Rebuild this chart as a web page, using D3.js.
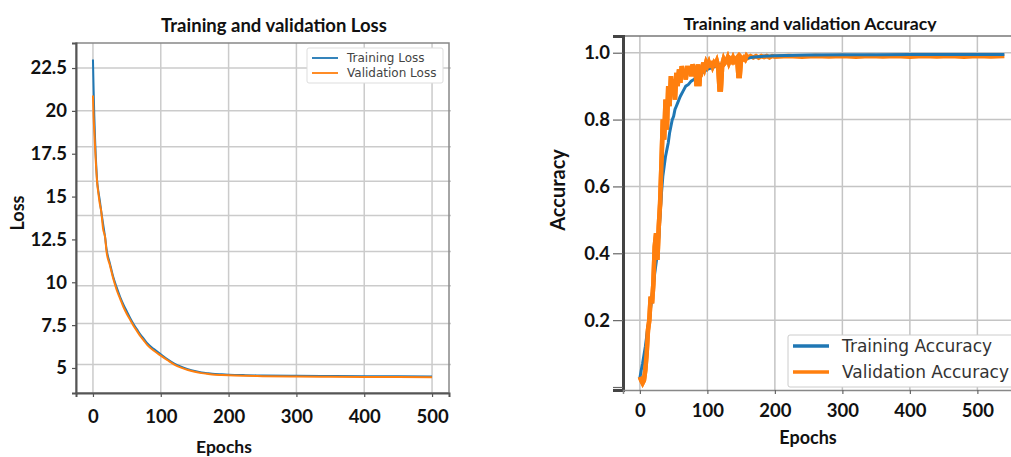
<!DOCTYPE html>
<html>
<head>
<meta charset="utf-8">
<script src="https://cdn.jsdelivr.net/npm/d3@7"></script>
<style>
  body { margin: 0; background: #fff; }
  svg { display: block; }
</style>
</head>
<body>
<svg id="chart"></svg>
<script>
// ---- data ----
const lossEpochs = [0, 1, 2, 3, 4, 5, 6, 8, 10, 12, 15, 18, 20, 25, 30, 35, 40, 45, 50, 55, 60, 65, 70, 75, 80, 90,
  100, 110, 120, 130, 140, 150, 160, 170, 180, 190, 200, 225, 250, 300, 350, 400, 450, 500];
const trainLoss = [23.0, 21.2, 19.7, 18.5, 17.5, 16.7, 16.0, 15.3, 14.8, 14.2, 13.4, 12.6, 11.95, 11.1, 10.3, 9.7, 9.15,
  8.7, 8.3, 7.9, 7.55, 7.25, 6.95, 6.7, 6.45, 6.1, 5.8, 5.5, 5.25, 5.07, 4.93, 4.82, 4.74, 4.69, 4.65, 4.63, 4.61,
  4.58, 4.56, 4.54, 4.53, 4.52, 4.51, 4.5];
const valLoss = [20.9, 19.6, 18.8, 18.0, 17.2, 16.5, 15.9, 15.2, 14.6, 14.2, 13.1, 12.6, 11.8, 11.0, 10.2, 9.55, 9.05,
  8.55, 8.15, 7.8, 7.45, 7.15, 6.85, 6.6, 6.35, 6.0, 5.72, 5.45, 5.2, 5.02, 4.88, 4.78, 4.70, 4.65, 4.61, 4.59, 4.57,
  4.54, 4.52, 4.5, 4.49, 4.48, 4.47, 4.46];
const lossTicks = [5, 7.5, 10, 12.5, 15, 17.5, 20, 22.5];
const lossTickLabels = ["5", "7.5", "10", "12.5", "15", "17.5", "20", "22.5"];
const lossGridValues = [22.5, 20, 17.9, 15.9, 13.9, 11.8, 9.8, 7.6, 5.2];

const accTrain = [
  [0, 0.027], [2, 0.05], [4, 0.07], [6, 0.095], [8, 0.12], [10, 0.15], [12, 0.18], [14, 0.2], [16, 0.24],
  [18, 0.27], [20, 0.31], [22, 0.34], [24, 0.37], [26, 0.4], [28, 0.45], [30, 0.52], [32, 0.58], [34, 0.63],
  [36, 0.66], [38, 0.69], [40, 0.71], [42, 0.73], [44, 0.76], [46, 0.78], [48, 0.8], [50, 0.81], [52, 0.83],
  [54, 0.84], [56, 0.85], [58, 0.86], [60, 0.87], [64, 0.885], [68, 0.9], [72, 0.905], [76, 0.915], [80, 0.92],
  [84, 0.925], [88, 0.935], [92, 0.94], [96, 0.945], [100, 0.95], [110, 0.958], [120, 0.965], [130, 0.972],
  [140, 0.977], [150, 0.981], [160, 0.984], [170, 0.987], [180, 0.989], [190, 0.99], [200, 0.991], [250, 0.993],
  [300, 0.994], [350, 0.994], [400, 0.995], [450, 0.995], [500, 0.995], [540, 0.995]
];
const accVal = [
  [0, 0.03], [2, 0.02], [4, 0.012], [6, 0.02], [8, 0.05], [10, 0.1], [12, 0.17], [14, 0.2], [16, 0.27],
  [18, 0.25], [20, 0.31], [22, 0.42], [24, 0.46], [26, 0.38], [28, 0.48], [30, 0.55], [32, 0.67], [34, 0.8],
  [36, 0.74], [38, 0.86], [40, 0.77], [42, 0.9], [44, 0.84], [46, 0.93], [48, 0.88], [50, 0.92], [52, 0.86],
  [54, 0.94], [56, 0.9], [58, 0.95], [60, 0.91], [62, 0.96], [64, 0.93], [66, 0.95], [68, 0.92], [70, 0.96],
  [72, 0.94], [74, 0.96], [76, 0.93], [78, 0.965], [80, 0.95], [82, 0.96], [84, 0.9], [86, 0.965], [88, 0.9],
  [90, 0.96], [92, 0.95], [94, 0.97], [96, 0.955], [98, 0.97], [100, 0.96], [102, 0.97], [104, 0.955],
  [106, 0.975], [108, 0.96], [110, 0.97], [112, 0.965], [114, 0.975], [116, 0.96], [118, 0.89], [120, 0.89],
  [122, 0.965], [124, 0.98], [126, 0.97], [128, 0.975], [130, 0.985], [132, 0.97], [134, 0.98], [136, 0.975],
  [138, 0.985], [140, 0.975], [142, 0.98], [144, 0.985], [146, 0.93], [148, 0.93], [150, 0.985], [152, 0.98],
  [154, 0.985], [156, 0.98], [158, 0.99], [160, 0.985], [164, 0.99], [168, 0.986], [172, 0.99], [176, 0.985],
  [180, 0.99], [184, 0.987], [188, 0.99], [192, 0.986], [196, 0.99], [200, 0.988], [220, 0.99], [240, 0.988],
  [260, 0.99], [280, 0.989], [300, 0.99], [320, 0.988], [340, 0.99], [360, 0.989], [380, 0.99], [400, 0.988],
  [420, 0.99], [440, 0.989], [460, 0.99], [480, 0.988], [500, 0.99], [520, 0.989], [540, 0.99]
];
const accTicks = [0, 0.2, 0.4, 0.6, 0.8, 1.0];
const accTickLabels = ["", "0.2", "0.4", "0.6", "0.8", "1.0"];
const epochTicks = [0, 100, 200, 300, 400, 500];

const blue = "#1f77b4", orange = "#ff7f0e";
const tickFont = "Lato, 'Open Sans', sans-serif";

const svg = d3.select("#chart").attr("width", 1011).attr("height", 457);

// ================= Loss panel =================
const lossX = d3.scaleLinear().domain([-25, 525]).range([76, 449]);
const lossY = d3.scaleLinear().domain([3.54, 23.96]).range([393, 43]);

const lossG = svg.append("g");

lossG.selectAll(".hgrid").data(lossGridValues).join("line")
  .attr("x1", 76).attr("x2", 451)
  .attr("y1", d => lossY(d)).attr("y2", d => lossY(d))
  .attr("stroke", "#cbcbcb").attr("stroke-width", 1.5);
lossG.selectAll(".vgrid").data(epochTicks).join("line")
  .attr("x1", d => lossX(d)).attr("x2", d => lossX(d))
  .attr("y1", 43).attr("y2", 393)
  .attr("stroke", "#cbcbcb").attr("stroke-width", 1.5);

const lossLine = (vals) => d3.line()
  .x((d, i) => lossX(lossEpochs[i]))
  .y(d => lossY(d))
  .curve(d3.curveMonotoneX)(vals);

lossG.append("path").attr("d", lossLine(trainLoss))
  .attr("fill", "none").attr("stroke", blue).attr("stroke-width", 2);
lossG.append("path").attr("d", lossLine(valLoss))
  .attr("fill", "none").attr("stroke", orange).attr("stroke-width", 2);

// frame
lossG.append("rect").attr("x", 76).attr("y", 43).attr("width", 373).attr("height", 350)
  .attr("fill", "none").attr("stroke", "#888").attr("stroke-width", 1.5);

const lossYAxis = lossG.append("g").attr("transform", "translate(76,0)")
  .call(d3.axisLeft(lossY).tickValues(lossTicks)
    .tickFormat((d, i) => lossTickLabels[i]).tickSize(4).tickPadding(5));
const lossXAxis = lossG.append("g").attr("transform", "translate(0,393)")
  .call(d3.axisBottom(lossX).tickValues(epochTicks).tickSize(4).tickPadding(13));
[lossYAxis, lossXAxis].forEach(a => {
  a.select(".domain").attr("stroke", "#555").attr("stroke-width", 2);
  a.selectAll(".tick line").attr("stroke", "#555").attr("stroke-width", 1.2);
  a.selectAll(".tick text").attr("font-family", tickFont).attr("font-weight", 700)
    .attr("font-size", 18.5).attr("fill", "#111");
});

lossG.append("text").attr("x", 274).attr("y", 32).attr("text-anchor", "middle")
  .attr("font-family", tickFont).attr("font-weight", 700).attr("font-size", 18.5).attr("fill", "#111")
  .text("Training and validation Loss");
lossG.append("text").attr("x", 224).attr("y", 453).attr("text-anchor", "middle")
  .attr("font-family", tickFont).attr("font-weight", 700).attr("font-size", 17.5).attr("fill", "#111")
  .text("Epochs");
lossG.append("text").attr("transform", "translate(24,213) rotate(-90)").attr("text-anchor", "middle")
  .attr("font-family", tickFont).attr("font-weight", 700).attr("font-size", 18).attr("fill", "#111")
  .text("Loss");

// legend
const lossLegend = lossG.append("g").attr("transform", "translate(307,48)");
lossLegend.append("rect").attr("width", 136).attr("height", 35).attr("rx", 2)
  .attr("fill", "#fff").attr("stroke", "#ddd");
[{ label: "Training Loss", color: blue }, { label: "Validation Loss", color: orange }].forEach((d, i) => {
  lossLegend.append("line").attr("x1", 5).attr("x2", 31).attr("y1", 10 + i * 15).attr("y2", 10 + i * 15)
    .attr("stroke", d.color).attr("stroke-width", 1.8);
  lossLegend.append("text").attr("x", 40).attr("y", 10 + i * 15).attr("dy", "0.35em")
    .attr("font-family", "'DejaVu Sans', sans-serif").attr("font-size", 12).attr("fill", "#444")
    .text(d.label);
});

// ================= Accuracy panel =================
const accX = d3.scaleLinear().domain([-25, 575]).range([623, 1028]);
const accY = d3.scaleLinear().domain([-0.009, 1.05]).range([390, 36]);

const accG = svg.append("g");

accG.selectAll(".hgrid").data(accTicks.slice(1)).join("line")
  .attr("x1", 623).attr("x2", 1028)
  .attr("y1", d => accY(d)).attr("y2", d => accY(d))
  .attr("stroke", "#c4c4c4").attr("stroke-width", 1.5);
accG.selectAll(".vgrid").data(epochTicks).join("line")
  .attr("x1", d => accX(d)).attr("x2", d => accX(d))
  .attr("y1", 36).attr("y2", 390)
  .attr("stroke", "#c4c4c4").attr("stroke-width", 1.5);

const accLine = d3.line().x(d => accX(d[0])).y(d => accY(d[1]));

accG.append("path").attr("d", accLine(accVal))
  .attr("fill", "none").attr("stroke", orange).attr("stroke-width", 4.5);
accG.append("path").attr("d", accLine(accTrain))
  .attr("fill", "none").attr("stroke", blue).attr("stroke-width", 3);
// validation on top during the rising part, as in the picture
accG.append("path").attr("d", accLine(accVal.filter(d => d[0] <= 160)))
  .attr("fill", "none").attr("stroke", orange).attr("stroke-width", 4.5);

accG.append("line").attr("x1", 623).attr("x2", 1028).attr("y1", 36).attr("y2", 36)
  .attr("stroke", "#777").attr("stroke-width", 1.5);

const accYAxis = accG.append("g").attr("transform", "translate(623,0)")
  .call(d3.axisLeft(accY).tickValues(accTicks)
    .tickFormat((d, i) => accTickLabels[i]).tickSize(10).tickPadding(3));
const accXAxis = accG.append("g").attr("transform", "translate(0,390)")
  .call(d3.axisBottom(accX).tickValues(epochTicks).tickSize(4).tickPadding(10));
accYAxis.select(".domain").attr("stroke", "#444").attr("stroke-width", 3);
accXAxis.select(".domain").attr("stroke", "#888").attr("stroke-width", 1.5);
[accYAxis, accXAxis].forEach(a => {
  a.selectAll(".tick line").attr("stroke", "#666").attr("stroke-width", 1.2);
  a.selectAll(".tick text").attr("font-family", tickFont).attr("font-weight", 700)
    .attr("font-size", 18.5).attr("fill", "#111");
});

svg.append("clipPath").attr("id", "accTitleClip")
  .append("rect").attr("x", 600).attr("y", 0).attr("width", 411).attr("height", 31.5);
accG.append("text").attr("x", 810).attr("y", 30).attr("text-anchor", "middle")
  .attr("clip-path", "url(#accTitleClip)")
  .attr("font-family", tickFont).attr("font-weight", 700).attr("font-size", 17.7).attr("fill", "#111")
  .text("Training and validation Accuracy");
accG.append("text").attr("x", 808).attr("y", 444).attr("text-anchor", "middle")
  .attr("font-family", tickFont).attr("font-weight", 700).attr("font-size", 18).attr("fill", "#111")
  .text("Epochs");
accG.append("text").attr("transform", "translate(565,190) rotate(-90)").attr("text-anchor", "middle")
  .attr("font-family", tickFont).attr("font-weight", 700).attr("font-size", 20).attr("fill", "#111")
  .text("Accuracy");

const accLegend = accG.append("g").attr("transform", "translate(788,335)");
accLegend.append("rect").attr("width", 240).attr("height", 52).attr("rx", 2)
  .attr("fill", "#fff").attr("stroke", "#ccc");
[{ label: "Training Accuracy", color: blue }, { label: "Validation Accuracy", color: orange }].forEach((d, i) => {
  accLegend.append("line").attr("x1", 5).attr("x2", 41).attr("y1", 11 + i * 26).attr("y2", 11 + i * 26)
    .attr("stroke", d.color).attr("stroke-width", 3.5);
  accLegend.append("text").attr("x", 54).attr("y", 11 + i * 26).attr("dy", "0.35em")
    .attr("font-family", "'DejaVu Sans', sans-serif").attr("font-size", 17).attr("fill", "#333")
    .text(d.label);
});
</script>
</body>
</html>
